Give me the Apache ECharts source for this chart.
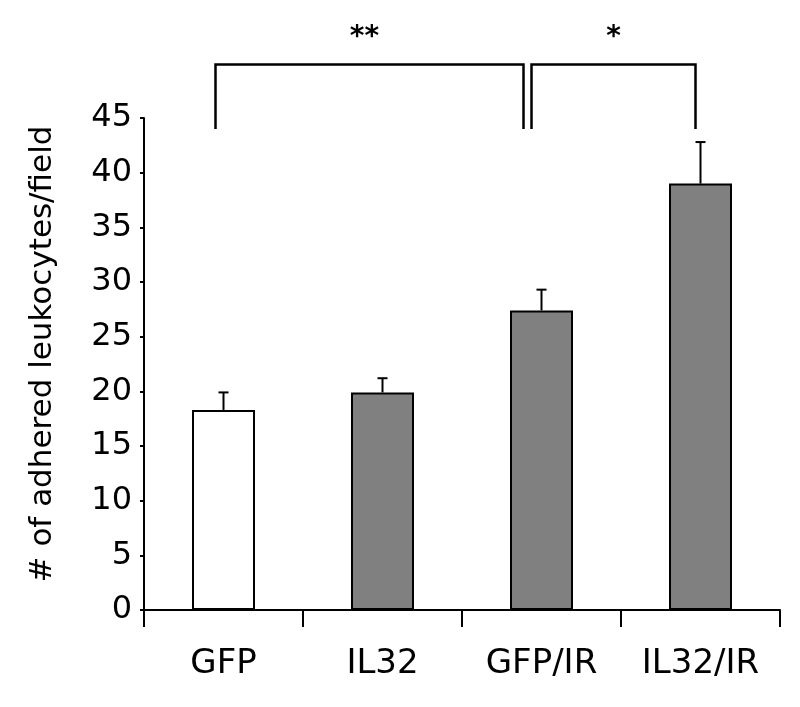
<!DOCTYPE html>
<html><head><meta charset="utf-8">
<script src="https://cdn.jsdelivr.net/npm/echarts@6/dist/echarts.min.js"></script>
<style>html,body{margin:0;padding:0;background:#fff}#c{width:800px;height:707px}</style>
</head><body><div id="c"></div>
<script>
const categories = ['GFP', 'IL32', 'GFP/IR', 'IL32/IR'];
const means = [18.3, 19.9, 27.4, 39.0];
const errors = [1.6, 1.3, 1.9, 3.8];
const barColors = ['#ffffff', '#808080', '#808080', '#808080'];
const yTicks = [0, 5, 10, 15, 20, 25, 30, 35, 40, 45];
const yTitle = '# of adhered leukocytes/field';
// significance brackets: [from category, to category, label]
const brackets = [[0, 2, '**'], [2, 3, '*']];
const bracketLow = 44.0, bracketHigh = 49.9;

const FONT = 'DejaVu Sans';
const chart = echarts.init(document.getElementById('c'));
const option = {
  animation: false,
  grid: { left: 144, right: 20, top: 118, bottom: 97 },
  xAxis: {
    type: 'category', data: categories, boundaryGap: true,
    axisLine: { lineStyle: { color: '#000', width: 2 } },
    axisTick: { show: true, length: 17, lineStyle: { color: '#000', width: 2 } },
    axisLabel: { color: '#000', fontSize: 34, fontFamily: FONT, margin: 37 }
  },
  yAxis: {
    type: 'value', min: yTicks[0], max: yTicks[yTicks.length - 1], interval: 5,
    splitLine: { show: false },
    axisLine: { show: true, lineStyle: { color: '#000', width: 2 } },
    axisTick: { show: true, length: 4, lineStyle: { color: '#000', width: 2 } },
    axisLabel: { color: '#000', fontSize: 32, fontFamily: FONT, margin: 12 },
    name: yTitle, nameLocation: 'middle', nameGap: 86,
    nameTextStyle: { color: '#000', fontSize: 31, fontFamily: FONT, padding: [0, 0, 0, 20] }
  },
  series: [
    {
      type: 'bar', barWidth: 63,
      data: means.map((v, i) => ({ value: v, itemStyle: { color: barColors[i] } })),
      itemStyle: { borderColor: '#000', borderWidth: 2 }
    },
    {
      type: 'custom',
      data: means.map((v, i) => [i, v, v + errors[i]]),
      renderItem: function (params, api) {
        const base = api.coord([api.value(0), api.value(1)]);
        const top = api.coord([api.value(0), api.value(2)]);
        const x = base[0], hw = 5;
        return {
          type: 'group', children: [
            { type: 'line', shape: { x1: x, y1: base[1], x2: x, y2: top[1] }, style: { stroke: '#000', lineWidth: 2 } },
            { type: 'line', shape: { x1: x - hw, y1: top[1], x2: x + hw, y2: top[1] }, style: { stroke: '#000', lineWidth: 2 } }
          ]
        };
      },
      z: 5
    }
  ]
};
chart.setOption(option);

// draw brackets with positions from the axes
const offsets = [[-8, -18], [-10, -5]];
const labelShift = [-5, 0];
const g = [];
brackets.forEach((b, k) => {
  const x1 = chart.convertToPixel({ xAxisIndex: 0 }, b[0]) + offsets[k][0];
  const x2 = chart.convertToPixel({ xAxisIndex: 0 }, b[1]) + offsets[k][1];
  const yl = chart.convertToPixel({ yAxisIndex: 0 }, bracketLow);
  const yh = chart.convertToPixel({ yAxisIndex: 0 }, bracketHigh);
  g.push({
    type: 'polyline', shape: { points: [[x1, yl], [x1, yh], [x2, yh], [x2, yl]] },
    style: { stroke: '#000', lineWidth: 2.5, fill: null }
  });
  g.push({
    type: 'text', x: (x1 + x2) / 2 + labelShift[k], y: yh - 27,
    style: { text: b[2], font: 'bold 28px "DejaVu Sans"', fill: '#000', textAlign: 'center', textVerticalAlign: 'middle' }
  });
});
chart.setOption({ graphic: g });
</script></body></html>
